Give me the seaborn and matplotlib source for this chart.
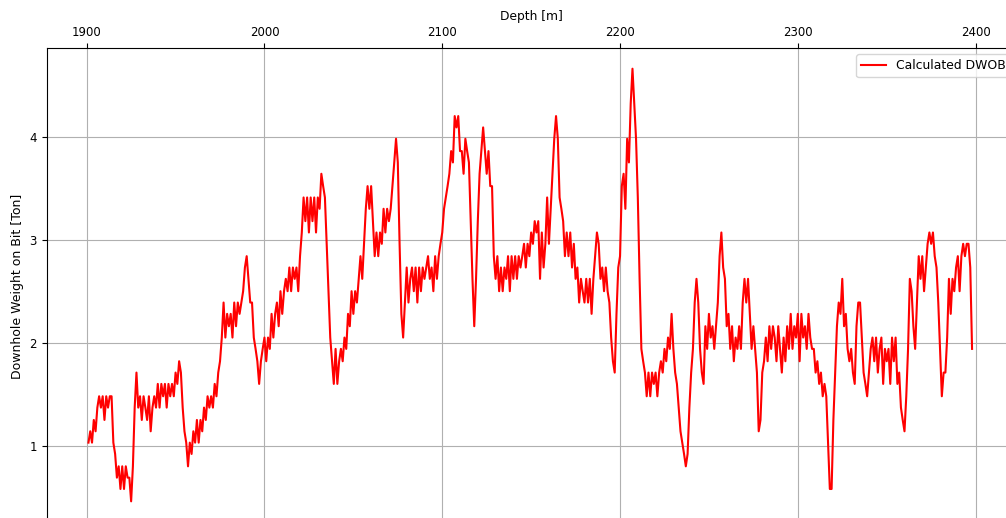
import numpy as np
import pandas as pd
import matplotlib
matplotlib.use("Agg")
import matplotlib.pyplot as plt
import seaborn as sns

# Depth samples (1 m spacing starting at 1901 m) and calculated DWOB values [Ton]
start_depth = 1901
dwob = [
    1.03, 1.14, 1.03, 1.25, 1.14, 1.37, 1.48, 1.37, 1.48, 1.25,  # 1901
    1.48, 1.37, 1.48, 1.48, 1.03, 0.92, 0.69, 0.80, 0.58, 0.80,  # 1911
    0.58, 0.80, 0.69, 0.69, 0.46, 0.80, 1.37, 1.71, 1.37, 1.48,  # 1921
    1.25, 1.48, 1.37, 1.25, 1.48, 1.14, 1.37, 1.48, 1.37, 1.60,  # 1931
    1.37, 1.60, 1.48, 1.60, 1.37, 1.60, 1.48, 1.60, 1.48, 1.71,  # 1941
    1.60, 1.82, 1.71, 1.37, 1.14, 1.03, 0.80, 1.03, 0.92, 1.14,  # 1951
    1.03, 1.25, 1.03, 1.25, 1.14, 1.37, 1.25, 1.48, 1.37, 1.48,  # 1961
    1.37, 1.60, 1.48, 1.71, 1.82, 2.05, 2.39, 2.05, 2.28, 2.16,  # 1971
    2.28, 2.05, 2.39, 2.16, 2.39, 2.28, 2.39, 2.50, 2.73, 2.84,  # 1981
    2.62, 2.39, 2.39, 2.05, 1.94, 1.82, 1.60, 1.82, 1.94, 2.05,  # 1991
    1.82, 2.05, 1.94, 2.28, 2.05, 2.28, 2.39, 2.16, 2.50, 2.28,  # 2001
    2.50, 2.62, 2.50, 2.73, 2.50, 2.73, 2.62, 2.73, 2.50, 2.84,  # 2011
    3.07, 3.41, 3.18, 3.41, 3.07, 3.41, 3.18, 3.41, 3.07, 3.41,  # 2021
    3.30, 3.64, 3.52, 3.41, 2.96, 2.50, 2.05, 1.82, 1.60, 1.94,  # 2031
    1.60, 1.82, 1.94, 1.82, 2.05, 1.94, 2.28, 2.16, 2.50, 2.28,  # 2041
    2.50, 2.39, 2.62, 2.84, 2.62, 2.96, 3.30, 3.52, 3.30, 3.52,  # 2051
    3.18, 2.84, 3.07, 2.84, 3.07, 2.96, 3.30, 3.07, 3.30, 3.18,  # 2061
    3.30, 3.52, 3.75, 3.98, 3.75, 2.96, 2.28, 2.05, 2.39, 2.73,  # 2071
    2.39, 2.62, 2.73, 2.50, 2.73, 2.39, 2.73, 2.50, 2.73, 2.62,  # 2081
    2.73, 2.84, 2.62, 2.73, 2.50, 2.84, 2.62, 2.84, 2.96, 3.07,  # 2091
    3.30, 3.41, 3.52, 3.64, 3.86, 3.75, 4.20, 4.09, 4.20, 3.86,  # 2101
    3.86, 3.64, 3.98, 3.86, 3.75, 3.18, 2.62, 2.16, 2.62, 3.18,  # 2111
    3.64, 3.86, 4.09, 3.86, 3.64, 3.86, 3.52, 3.52, 2.84, 2.62,  # 2121
    2.84, 2.50, 2.73, 2.50, 2.73, 2.62, 2.84, 2.50, 2.84, 2.62,  # 2131
    2.84, 2.62, 2.84, 2.73, 2.84, 2.96, 2.73, 2.96, 2.84, 3.07,  # 2141
    2.96, 3.18, 3.07, 3.18, 2.62, 3.07, 2.73, 2.96, 3.41, 2.96,  # 2151
    3.30, 3.64, 3.98, 4.20, 3.98, 3.41, 3.30, 3.18, 2.84, 3.07,  # 2161
    2.84, 3.07, 2.73, 2.96, 2.62, 2.73, 2.39, 2.62, 2.50, 2.39,  # 2171
    2.62, 2.39, 2.62, 2.28, 2.62, 2.84, 3.07, 2.96, 2.62, 2.73,  # 2181
    2.50, 2.73, 2.50, 2.39, 2.05, 1.82, 1.71, 2.28, 2.73, 2.84,  # 2191
    3.52, 3.64, 3.30, 3.98, 3.75, 4.32, 4.66, 4.32, 3.98, 3.41,  # 2201
    2.62, 1.94, 1.82, 1.71, 1.48, 1.71, 1.48, 1.71, 1.60, 1.71,  # 2211
    1.48, 1.71, 1.82, 1.71, 1.94, 1.82, 2.05, 1.94, 2.28, 1.94,  # 2221
    1.71, 1.60, 1.37, 1.14, 1.03, 0.92, 0.80, 0.92, 1.37, 1.71,  # 2231
    1.94, 2.39, 2.62, 2.39, 1.94, 1.71, 1.60, 2.16, 1.94, 2.28,  # 2241
    2.05, 2.16, 1.94, 2.16, 2.39, 2.84, 3.07, 2.73, 2.62, 2.16,  # 2251
    2.28, 1.94, 2.16, 1.82, 2.05, 1.94, 2.16, 1.94, 2.39, 2.62,  # 2261
    2.39, 2.62, 2.28, 1.94, 2.16, 1.94, 1.71, 1.14, 1.25, 1.71,  # 2271
    1.82, 2.05, 1.82, 2.16, 1.94, 2.16, 2.05, 1.82, 2.16, 1.94,  # 2281
    1.71, 2.05, 1.82, 2.16, 1.94, 2.28, 1.94, 2.16, 2.05, 2.28,  # 2291
    1.82, 2.28, 2.05, 2.16, 1.94, 2.28, 2.05, 1.94, 1.94, 1.71,  # 2301
    1.82, 1.60, 1.71, 1.48, 1.60, 1.48, 1.03, 0.58, 0.58, 1.25,  # 2311
    1.71, 2.16, 2.39, 2.28, 2.62, 2.16, 2.28, 1.94, 1.82, 1.94,  # 2321
    1.71, 1.60, 2.16, 2.39, 2.39, 2.05, 1.71, 1.60, 1.48, 1.71,  # 2331
    1.94, 2.05, 1.82, 2.05, 1.71, 1.94, 2.05, 1.60, 1.94, 1.82,  # 2341
    1.94, 1.60, 2.05, 1.82, 2.05, 1.60, 1.71, 1.37, 1.25, 1.14,  # 2351
    1.48, 1.94, 2.62, 2.50, 2.16, 1.94, 2.39, 2.84, 2.62, 2.84,  # 2361
    2.50, 2.73, 2.96, 3.07, 2.96, 3.07, 2.84, 2.73, 2.39, 1.94,  # 2371
    1.48, 1.71, 1.71, 2.05, 2.62, 2.28, 2.62, 2.50, 2.73, 2.84,  # 2381
    2.50, 2.84, 2.96, 2.84, 2.96, 2.96, 2.73, 1.94,              # 2391
]
depth = np.arange(start_depth, start_depth + len(dwob))

x_ticks = [1900, 2000, 2100, 2200, 2300, 2400]
y_ticks = [1, 2, 3, 4]
series_label = "Calculated DWOB"
x_label = "Depth [m]"
y_label = "Downhole Weight on Bit [Ton]"

df = pd.DataFrame({"Depth": depth, "DWOB": dwob})

W, H = 1006, 518
fig = plt.figure(figsize=(W / 100, H / 100), dpi=100)
ax_left, ax_top, ax_right, ax_bottom = 46.5, 48.3, 1016.5, 524.0
ax = fig.add_axes([ax_left / W, 1 - ax_bottom / H,
                   (ax_right - ax_left) / W, (ax_bottom - ax_top) / H])

sns.lineplot(data=df, x="Depth", y="DWOB", color="#ff0000", linewidth=1.5,
             label=series_label, estimator=None, ax=ax)

ax.set_xlim(1877.4, 2423.0)
ax.set_ylim(0.24, 4.858)
ax.set_xticks(x_ticks)
ax.set_yticks(y_ticks)
ax.xaxis.tick_top()
ax.xaxis.set_label_position("top")
ax.tick_params(labelsize=8.5, length=3.5, width=0.8)
ax.set_xlabel(x_label, fontsize=8.8)
ax.set_ylabel(y_label, fontsize=9.0)
ax.grid(True, color="#b0b0b0", linewidth=0.8)
ax.legend(loc="upper right", fontsize=8.9)

fig.savefig("out.png", dpi=100)
